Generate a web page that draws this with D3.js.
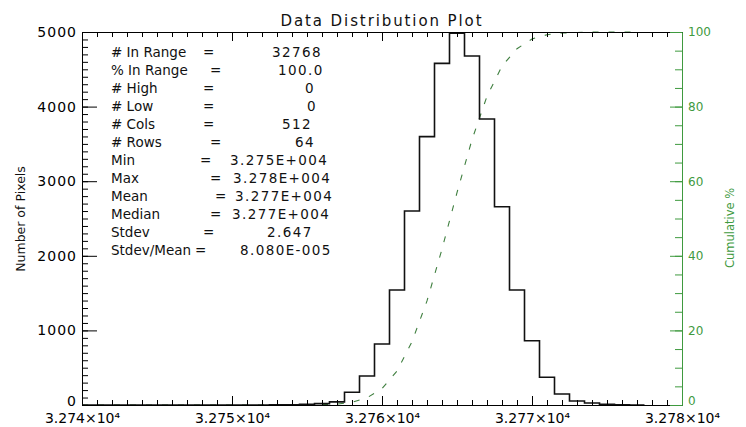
<!DOCTYPE html>
<html>
<head>
<meta charset="utf-8">
<script src="https://cdn.jsdelivr.net/npm/d3@7"></script>
<style>
  html, body { margin: 0; padding: 0; background: #fff; }
  svg { display: block; }
</style>
</head>
<body>
<svg id="chart" width="746" height="427"></svg>
<script>
// ---- data ----
const titleText = "Data Distribution Plot";
const countTitle = "Number of Pixels";
const percentTitle = "Cumulative %";

// histogram bin centres (pixel value) and pixel counts per bin
const pixelValues = [32740, 32741, 32742, 32743, 32744, 32745, 32746, 32747, 32748, 32749,
                     32750, 32751, 32752, 32753, 32754, 32755, 32756, 32757, 32758, 32759,
                     32760, 32761, 32762, 32763, 32764, 32765, 32766, 32767, 32768, 32769,
                     32770, 32771, 32772, 32773, 32774, 32775, 32776, 32777];
const pixelCounts = [0, 0, 0, 0, 0, 0, 0, 0, 0, 0,
                     0, 1, 1, 2, 4, 9, 18, 42, 170, 389,
                     818, 1541, 2600, 3597, 4580, 4985, 4678, 3834, 2658, 1541,
                     862, 371, 147, 54, 26, 10, 3, 1];

const xTicks = [32740, 32750, 32760, 32770, 32780];
const countTicks = [0, 1000, 2000, 3000, 4000, 5000];
const percentTicks = [0, 20, 40, 60, 80, 100];

const statLabels = ["# In Range", "% In Range", "# High", "# Low", "# Cols", "# Rows",
                    "Min", "Max", "Mean", "Median", "Stdev", "Stdev/Mean"];
const statValues = ["32768", "100.0", "0", "0", "512", "64",
                    "3.275E+004", "3.278E+004", "3.277E+004", "3.277E+004", "2.647", "8.080E-005"];

// ---- layout ----
const plot = { left: 82, right: 682, top: 32, bottom: 405 };
const FONT = "DejaVu Sans";
const GREEN_AXIS = "#3f9a3f";
const GREEN_LINE = "#3f7f3f";
// x of the "=" sign and of the value for each statistics row
const statCols = [[203, 272], [210, 278], [203, 305], [203, 307], [203, 282], [210, 295],
                  [200, 230], [210, 233], [215, 235], [210, 232], [203, 267], [195, 240]];
const statLabelX = 111, statFirstBaseline = 57, statRowStep = 18;

const svg = d3.select("#chart");

const x = d3.scaleLinear().domain([32740, 32780]).range([plot.left, plot.right]);
const yCount = d3.scaleLinear().domain([0, 5000]).range([plot.bottom, plot.top]);
const yPct = d3.scaleLinear().domain([0, 100]).range([plot.bottom, plot.top]);

svg.append("defs").append("clipPath").attr("id", "plotClip")
  .append("rect")
  .attr("x", plot.left).attr("y", plot.top - 2)
  .attr("width", plot.right - plot.left).attr("height", plot.bottom - plot.top + 2);

// cumulative percentage of pixels at each bin centre
const total = d3.sum(pixelCounts);
const cumPct = Array.from(d3.cumsum(pixelCounts), c => c / total * 100);

svg.append("path")
  .attr("clip-path", "url(#plotClip)")
  .attr("d", d3.line().x((d, i) => x(pixelValues[i])).y(d => yPct(d))(cumPct))
  .attr("fill", "none")
  .attr("stroke", GREEN_LINE)
  .attr("stroke-width", 1.1)
  .attr("stroke-dasharray", "6,10");

// histogram drawn as steps, each bin one unit wide centred on its value
const steps = pixelValues.flatMap((v, i) => [[v - 0.5, pixelCounts[i]], [v + 0.5, pixelCounts[i]]]);
svg.append("path")
  .attr("clip-path", "url(#plotClip)")
  .attr("d", d3.line().x(d => x(d[0])).y(d => yCount(d[1]))(steps))
  .attr("fill", "none")
  .attr("stroke", "#111")
  .attr("stroke-width", 1.6);

// ---- axes ----
function styleAxis(g, color, size, spacing) {
  g.select(".domain").attr("stroke", color);
  g.selectAll(".tick line").attr("stroke", color);
  g.selectAll(".tick text")
    .attr("fill", color)
    .attr("font-family", FONT)
    .attr("font-size", size)
    .attr("letter-spacing", spacing || 0);
  g.attr("font-family", null).attr("font-size", null);
}
// the zero label of a vertical axis sits a little above its tick
function liftZero(g) {
  g.selectAll(".tick text").filter(d => d === 0).attr("y", -4);
}

const xMinor = d3.range(32740, 32781, 1);

// bottom
svg.append("g").attr("transform", `translate(0,${plot.bottom})`)
  .call(d3.axisBottom(x).tickValues(xMinor).tickSize(-5).tickSizeOuter(0).tickFormat(""))
  .call(g => styleAxis(g, "#000", 14));
svg.append("g").attr("transform", `translate(0,${plot.bottom})`)
  .call(d3.axisBottom(x).tickValues(xTicks).tickSize(-9).tickSizeOuter(0).tickPadding(8)
    .tickFormat(d => (d / 1e4).toFixed(3) + "×10⁴"))
  .call(g => styleAxis(g, "#000", 14));

// top
svg.append("g").attr("transform", `translate(0,${plot.top})`)
  .call(d3.axisTop(x).tickValues(xMinor).tickSize(-5).tickSizeOuter(0).tickFormat(""))
  .call(g => styleAxis(g, "#000", 14));
svg.append("g").attr("transform", `translate(0,${plot.top})`)
  .call(d3.axisTop(x).tickValues(xTicks).tickSize(-9).tickSizeOuter(0).tickFormat(""))
  .call(g => styleAxis(g, "#000", 14));

// left (pixel counts)
svg.append("g").attr("transform", `translate(${plot.left},0)`)
  .call(d3.axisLeft(yCount).tickValues(d3.range(0, 5001, 100)).tickSize(-6).tickSizeOuter(0).tickFormat(""))
  .call(g => styleAxis(g, "#000", 14));
svg.append("g").attr("transform", `translate(${plot.left},0)`)
  .call(d3.axisLeft(yCount).tickValues(countTicks).tickSize(-15).tickSizeOuter(0).tickPadding(5)
    .tickFormat(d3.format("d")))
  .call(g => styleAxis(g, "#000", 14, 1))
  .call(liftZero);

// right (cumulative percent)
svg.append("g").attr("transform", `translate(${plot.right},0)`)
  .call(d3.axisRight(yPct).tickValues(d3.range(0, 101, 5)).tickSize(-7).tickSizeOuter(0).tickFormat(""))
  .call(g => styleAxis(g, GREEN_AXIS, 12));
svg.append("g").attr("transform", `translate(${plot.right},0)`)
  .call(d3.axisRight(yPct).tickValues(percentTicks).tickSize(-12).tickSizeOuter(0).tickPadding(6)
    .tickFormat(d3.format("d")))
  .call(g => styleAxis(g, GREEN_AXIS, 12))
  .call(liftZero);

// ---- titles ----
svg.append("text")
  .attr("x", (plot.left + plot.right) / 2).attr("y", 26)
  .attr("text-anchor", "middle")
  .attr("font-family", FONT).attr("font-size", 15)
  .attr("letter-spacing", 1.9)
  .attr("fill", "#111")
  .text(titleText);

svg.append("text")
  .attr("transform", "translate(25,219) rotate(-90)")
  .attr("text-anchor", "middle")
  .attr("font-family", FONT).attr("font-size", 12.5)
  .attr("fill", "#111")
  .text(countTitle);

svg.append("text")
  .attr("transform", "translate(734,228) rotate(-90)")
  .attr("text-anchor", "middle")
  .attr("font-family", FONT).attr("font-size", 11.5)
  .attr("fill", GREEN_AXIS)
  .text(percentTitle);

// ---- statistics block ----
const stats = svg.append("g")
  .attr("font-family", FONT).attr("font-size", 13.5).attr("fill", "#111");
const rows = stats.selectAll("g").data(statLabels).join("g")
  .attr("transform", (d, i) => `translate(0,${statFirstBaseline + i * statRowStep})`);
rows.append("text").attr("x", statLabelX).text(d => d);
rows.append("text").attr("x", (d, i) => statCols[i][0]).text("=");
rows.append("text").attr("x", (d, i) => statCols[i][1])
  .attr("letter-spacing", 1.4)
  .text((d, i) => statValues[i]);
</script>
</body>
</html>
